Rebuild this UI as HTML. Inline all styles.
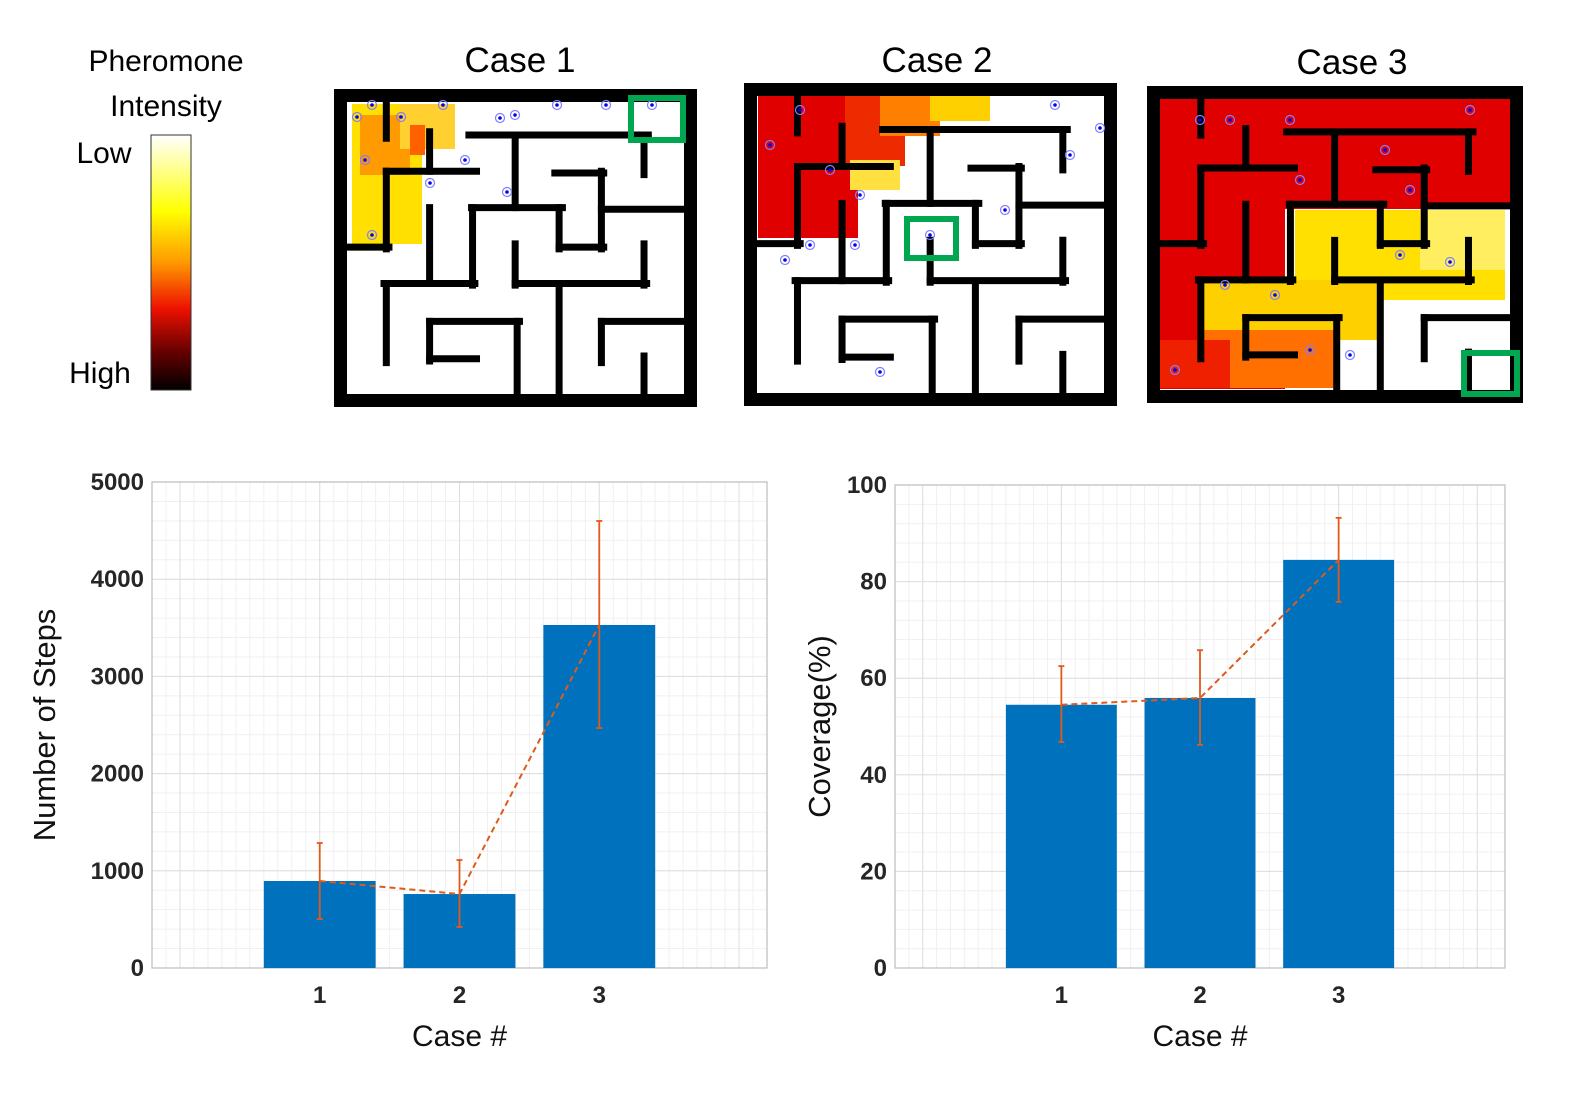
<!DOCTYPE html>
<html><head><meta charset="utf-8"><style>
body{margin:0;background:#fff;width:1593px;height:1093px;overflow:hidden;font-family:"Liberation Sans",sans-serif}
svg{position:absolute;left:0;top:0}
</style></head><body>
<svg id="fig" width="1593" height="1093">
<defs>
<linearGradient id="cb" x1="0" y1="0" x2="0" y2="1">
<stop offset="0" stop-color="#ffffff"/><stop offset="0.3" stop-color="#ffff00"/><stop offset="0.5" stop-color="#ff9900"/><stop offset="0.68" stop-color="#ee1100"/><stop offset="0.85" stop-color="#660000"/><stop offset="1" stop-color="#000000"/>
</linearGradient>
</defs>
<g>
<text x="166" y="71" font-size="30" text-anchor="middle">Pheromone</text>
<text x="166" y="116" font-size="30" text-anchor="middle">Intensity</text>
<text x="104" y="163" font-size="30" text-anchor="middle">Low</text>
<text x="100" y="383" font-size="30" text-anchor="middle">High</text>
<rect x="151" y="135" width="40" height="255" fill="url(#cb)" stroke="#333" stroke-width="1"/>
</g>
<text x="520" y="72" font-size="35" text-anchor="middle">Case 1</text>
<text x="937" y="72" font-size="35" text-anchor="middle">Case 2</text>
<text x="1352" y="74" font-size="35" text-anchor="middle">Case 3</text>
<g id="mazes"></g>
<g id="charts"></g>
</svg>
<script>
const NS="http://www.w3.org/2000/svg";
function mk(p,t,a){const e=document.createElementNS(NS,t);for(const k in a)e.setAttribute(k,a[k]);p.appendChild(e);return e;}
// maze walls in normalized source coords (x 68..1088, y 55..940)
const walls=[[187,55,187,165],[187,265,187,500],[68,495,195,495],[187,265,460,265],[318,145,318,265],[437,155,980,155],[967,155,967,275],[577,155,577,375],[445,375,720,375],[448,375,448,610],[180,605,455,605],[187,605,187,845],[318,375,318,605],[710,375,710,500],[710,495,845,495],[838,265,838,500],[697,270,845,270],[838,380,1088,380],[577,485,577,610],[577,605,975,605],[967,485,967,610],[710,610,710,940],[318,720,590,720],[318,720,318,840],[318,833,460,833],[583,720,583,940],[838,720,1088,720],[838,720,838,845],[967,825,967,940]];
const mazes=[
 {x:334,y:89,w:363,h:318,goal:[628,95,58,48],heat:[["#ffe000",352,104,70,140],["#ff9a00",360,115,50,60],["#ffd030",400,104,55,45],["#ff6000",410,125,15,30]],dots:[[357,117],[372,105],[401,117],[443,105],[500,118],[557,105],[606,105],[515,115],[365,160],[372,235],[430,183],[507,192],[652,105],[465,160]]},
 {x:744,y:83,w:373,h:323,goal:[904,216,55,45],heat:[["#e00000",758,96,100,142],["#ee2a00",845,96,60,70],["#ff8000",880,96,60,40],["#ffd000",930,96,60,25],["#ffe040",850,160,50,30]],dots:[[770,145],[800,110],[830,170],[860,195],[930,235],[1005,210],[1055,105],[1100,128],[880,372],[810,245],[855,245],[785,260],[1070,155]]},
 {x:1147,y:86,w:376,h:317,goal:[1461,350,59,47],heat:[["#e00000",1160,99,350,110],["#e00000",1160,99,125,290],["#e00000",1280,99,150,100],["#ffe000",1295,210,210,90],["#ffee60",1420,210,85,60],["#ffd000",1200,280,180,60],["#ff7000",1200,330,140,58],["#ee2000",1160,340,70,48]],dots:[[1200,120],[1230,120],[1290,120],[1385,150],[1470,110],[1300,180],[1410,190],[1225,285],[1275,295],[1400,255],[1310,350],[1350,355],[1450,262],[1175,370]]}
];
const mg=document.getElementById('mazes');
mazes.forEach((m,i)=>{
 const g=mk(mg,'g',{});
 
 
 const b=13;
 mk(g,'rect',{x:m.x,y:m.y,width:m.w,height:m.h,fill:'#000'});
 const ix=m.x+b,iy=m.y+b,iw=m.w-2*b,ih=m.h-2*b;
 mk(g,'rect',{x:ix,y:iy,width:iw,height:ih,fill:'#fff'});
 m.heat.forEach(h=>{const r=mk(g,'rect',{x:h[1],y:h[2],width:h[3],height:h[4],fill:h[0]});
  });
 const sx=v=>ix+(v-68)/1020*iw, sy=v=>iy+(v-55)/885*ih;
 walls.forEach(w=>{const l=mk(g,'line',{x1:sx(w[0]),y1:sy(w[1]),x2:sx(w[2]),y2:sy(w[3]),stroke:'#000','stroke-width':7,'stroke-linecap':'square'});
  });
 m.dots.forEach(d=>{const c=mk(g,'circle',{cx:d[0],cy:d[1],r:4.5,fill:'none',stroke:'#8080ff','stroke-width':1.2});
  
  mk(g,'circle',{cx:d[0],cy:d[1],r:1.8,fill:'#0000ff'});});
 const gr=mk(g,'rect',{x:m.goal[0]+3,y:m.goal[1]+3,width:m.goal[2]-6,height:m.goal[3]-6,fill:'none',stroke:'#00a650','stroke-width':6});
 
});

// ---- chart data ----
const categories=[1,2,3];
const stepsMean=[895,761,3529];
const stepsLow=[504,422,2469];
const stepsHigh=[1286,1111,4599];
const stepsTicks=[0,1000,2000,3000,4000,5000];
const covMean=[54.5,55.9,84.5];
const covLow=[46.8,46.2,75.8];
const covHigh=[62.5,65.8,93.2];
const covTicks=[0,20,40,60,80,100];

const cg=document.getElementById('charts');
function chart(name,L,R,T,B,ymax,ticks,mean,lo,hi,ylabel,ylx){
 const g=mk(cg,'g',{});
 
 
 const xs=v=>L+(v+0.2)/4.4*(R-L), ys=v=>B-v/ymax*(B-T);
 mk(g,'rect',{x:L,y:T,width:R-L,height:B-T,fill:'#fff'});
 for(let k=0;k<=ticks.length*5-5;k++){const y=ys(ymax*k/((ticks.length-1)*5));mk(g,'line',{x1:L,x2:R,y1:y,y2:y,stroke:'#f0f0f0','stroke-width':1});}
 for(let k=-2;k<=44;k++){const x=xs(k/10);if(x<L||x>R)continue;mk(g,'line',{x1:x,x2:x,y1:T,y2:B,stroke:'#f0f0f0','stroke-width':1});}
 ticks.forEach(t=>{mk(g,'line',{x1:L,x2:R,y1:ys(t),y2:ys(t),stroke:'#dedede','stroke-width':1});
  const tx=mk(g,'text',{x:L-8,y:ys(t)+8,'font-size':24,'font-weight':'bold','text-anchor':'end',fill:'#262626'});tx.textContent=t;
  });
 [0,1,2,3,4].forEach(c=>mk(g,'line',{x1:xs(c),x2:xs(c),y1:T,y2:B,stroke:'#dedede','stroke-width':1}));
 mk(g,'rect',{x:L,y:T,width:R-L,height:B-T,fill:'none',stroke:'#bcbcbc','stroke-width':1.2});
 categories.forEach((c,i)=>{
  const bw=0.8/4.4*(R-L);
  const r=mk(g,'rect',{x:xs(c)-bw/2,y:ys(mean[i]),width:bw,height:B-ys(mean[i]),fill:'#0072bd'});
  
  const tx=mk(g,'text',{x:xs(c),y:B+35,'font-size':24,'font-weight':'bold','text-anchor':'middle',fill:'#262626'});tx.textContent=c;
  
 });
 const pts=categories.map((c,i)=>xs(c)+','+ys(mean[i])).join(' ');
 const pl=mk(g,'polyline',{points:pts,fill:'none',stroke:'#e05a1a','stroke-width':2,'stroke-dasharray':'6,4'});
 
 categories.forEach((c,i)=>{
  const e=mk(g,'g',{});
  
  const x=xs(c);
  mk(e,'line',{x1:x,x2:x,y1:ys(lo[i]),y2:ys(hi[i]),stroke:'#e05a1a','stroke-width':1.8});
  mk(e,'line',{x1:x-3,x2:x+3,y1:ys(lo[i]),y2:ys(lo[i]),stroke:'#e05a1a','stroke-width':1.8});
  mk(e,'line',{x1:x-3,x2:x+3,y1:ys(hi[i]),y2:ys(hi[i]),stroke:'#e05a1a','stroke-width':1.8});
 });
 const xl=mk(g,'text',{x:(L+R)/2,y:B+78,'font-size':30,'text-anchor':'middle',fill:'#111'});xl.textContent='Case #';
 
 const yl=mk(g,'text',{x:0,y:0,'font-size':31,'text-anchor':'middle',fill:'#111',transform:`translate(${ylx},${(T+B)/2}) rotate(-90)`});yl.textContent=ylabel;
 
}
chart('steps-chart',152,767,482,968,5000,stepsTicks,stepsMean,stepsLow,stepsHigh,'Number of Steps',55);
chart('coverage-chart',895,1505,485,968,100,covTicks,covMean,covLow,covHigh,'Coverage(%)',830);
</script>
</body></html>
